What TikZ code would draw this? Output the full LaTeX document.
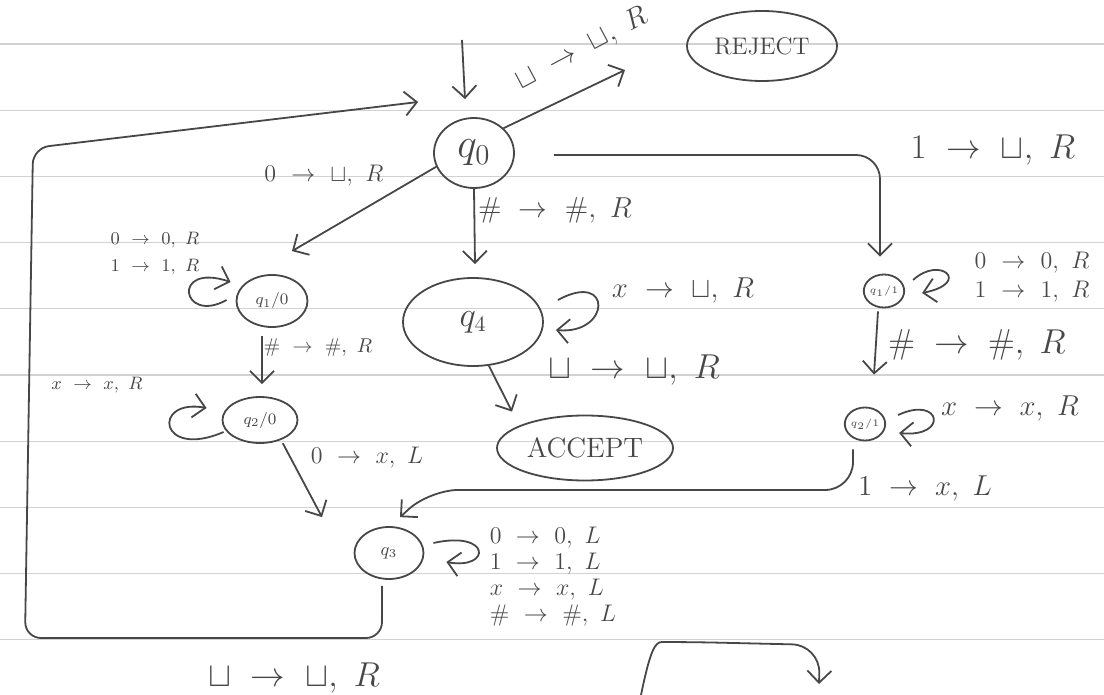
\documentclass[tikz,border=0pt]{standalone}
\usepackage{amsmath,amssymb}
\usepackage{tikz}
\usetikzlibrary{arrows.meta,shapes.geometric}
\definecolor{ink}{HTML}{474747}
\definecolor{ruleline}{HTML}{D2D2D2}
\newcommand{\tmove}[3]{$#1\ \rightarrow\ #2,\ #3$}

\begin{document}
\begin{tikzpicture}[x=0.5pt, y=-0.5pt,
  inked/.style={draw=ink, line width=0.9pt},
  state/.style={inked, ellipse, inner sep=0pt, text=ink},
  edge/.style={inked, -{Straight Barb[length=6pt, width=12pt]}},
  lab/.style={text=ink, inner sep=0pt, align=left, font=\fontsize{#1}{#1}\selectfont},
  lab/.default=13,
  ruling/.style={draw=ruleline, line width=0.6pt}]
  \useasboundingbox (0,0) rectangle (1104,695);
  \foreach \k in {0,...,9}
    \draw[ruling] (0,{44+66.2*\k}) -- (1104,{44+66.2*\k});

  \node[state, minimum width=40pt, minimum height=35pt, font=\fontsize{20}{20}\selectfont] (q0) at (474,153) {$q_0$};
  \node[state, minimum width=75pt, minimum height=35pt, font=\fontsize{12}{12}\selectfont] (rej) at (762,46) {REJECT};
  \node[state, minimum width=35.5pt, minimum height=26pt, font=\fontsize{8}{8}\selectfont] (q10) at (272,301) {$q_1/0$};
  \node[state, minimum width=37.5pt, minimum height=23pt, font=\fontsize{8}{8}\selectfont] (q20) at (260,420) {$q_2/0$};
  \node[state, minimum width=70pt, minimum height=44pt, font=\fontsize{16}{16}\selectfont] (q4) at (473,322) {$q_4$};
  \node[state, minimum width=88pt, minimum height=32.5pt, font=\fontsize{14}{14}\selectfont] (acc) at (585,448) {ACCEPT};
  \node[state, minimum width=16.5pt, minimum height=16.5pt, font=\fontsize{5}{5}\selectfont] (q11) at (884,291) {$q_1/1$};
  \node[state, minimum width=15pt, minimum height=16.5pt, font=\fontsize{5}{5}\selectfont] (q21) at (865,424) {$q_2/1$};
  \node[state, minimum width=34.5pt, minimum height=26pt, font=\fontsize{9}{9}\selectfont] (q3) at (389,553) {$q_3$};

  \coordinate (start) at (462,40);
  \coordinate (rejtip) at (625,70);
  \coordinate (frag0) at (640,700);
  \coordinate (frag1) at (819,684);

  \draw[edge] (start) -- ([shift={(-9,-18)}]q0.north);
  \draw[edge] (q0.40) -- (rejtip);
  \draw[edge] (q0.200) -- ([shift={(20,-23)}]q10.north);
  \draw[edge] (q0.south) -- ([shift={(2,-13)}]q4.north);
  \draw[edge, rounded corners=12pt] ([shift={(39,2)}]q0.east) -| ([shift={(-4,-17)}]q11.north);
  \draw[edge] ([shift={(-10,8)}]q10.south) -- ([shift={(2,-12)}]q20.north);
  \draw[edge] ([shift={(5,2)}]q20.-50) -- ([shift={(-67,-9)}]q3.north);
  \draw[edge] (q4.-70) -- ([shift={(-73,-3)}]acc.north);
  \draw[edge] ([shift={(-6,3)}]q11.south) -- ([shift={(9,-32)}]q21.north);
  \draw[edge, rounded corners=14pt] ([shift={(-12,8)}]q21.south) |- (430,490) -- ([shift={(11,-9)}]q3.north);
  \draw[edge, rounded corners=8pt] ([shift={(-7,6)}]q3.south) -- (382,638) -- (25,638) -- (33,148) -- ([shift={(-15,-51)}]q0.west);
  \draw[edge, rounded corners=14pt] (frag0) .. controls (650,650) and (655,642) .. (690,642) -- (820,645) -- (frag1);

  \draw[edge] ([shift={(-9,-1)}]q10.west) .. controls +(-45,25) and +(-60,-20) .. ([shift={(-5,-19)}]q10.west);
  \draw[edge] ([shift={(2,12)}]q20.west) .. controls +(-65,28) and +(-55,-10) .. ([shift={(-15,-12)}]q20.west);
  \draw[edge] ([shift={(14,-22)}]q4.east) .. controls +(55,-30) and +(55,5) .. ([shift={(12,8)}]q4.east);
  \draw[edge] ([shift={(8,-11)}]q11.east) .. controls +(27,-25) and +(50,-10) .. ([shift={(17,2)}]q11.east);
  \draw[edge] ([shift={(12,-9)}]q21.east) .. controls +(43,-20) and +(50,5) .. ([shift={(13,9)}]q21.east);
  \draw[edge] ([shift={(9,-10)}]q3.east) .. controls +(58,-13) and +(45,8) .. ([shift={(22,9)}]q3.east);

  \node[lab=14, rotate=28] (lrej) at (582,49) {\tmove{\sqcup}{\sqcup}{R}};
  \node[lab=17] (l01) at (993,150) {\tmove{1}{\sqcup}{R}};
  \node[lab=13] (l00) at (324,176) {\tmove{0}{\sqcup}{R}};
  \node[lab=14] (l0h) at (555,210) {\tmove{\#}{\#}{R}};
  \node[lab=9.5] (l10loop) at (155,254) {\tmove{0}{0}{R}\\[4pt]\tmove{1}{1}{R}};
  \node[lab=10] (l10) at (318,348) {\tmove{\#}{\#}{R}};
  \node[lab=9.5] (l20loop) at (97,385) {\tmove{x}{x}{R}};
  \node[lab=12] (l20) at (367,458) {\tmove{0}{x}{L}};
  \node[lab=15.5] (l4loop) at (683,290) {\tmove{x}{\sqcup}{R}};
  \node[lab=17] (l4) at (634,370) {\tmove{\sqcup}{\sqcup}{R}};
  \node[lab=13] (l11loop) at (1032,277) {\tmove{0}{0}{R}\\[1.5pt]\tmove{1}{1}{R}};
  \node[lab=16] (l11) at (977,345) {\tmove{\#}{\#}{R}};
  \node[lab=13.5] (l21loop) at (1010,408) {\tmove{x}{x}{R}};
  \node[lab=15] (l21) at (925,488) {\tmove{1}{x}{L}};
  \node[lab=12] (l3loop) at (553,577) {\tmove{0}{0}{L}\\[1pt]\tmove{1}{1}{L}\\[1pt]\tmove{x}{x}{L}\\[1pt]\tmove{\#}{\#}{L}};
  \node[lab=17] (l3) at (294,678) {\tmove{\sqcup}{\sqcup}{R}};
\end{tikzpicture}
\end{document}
